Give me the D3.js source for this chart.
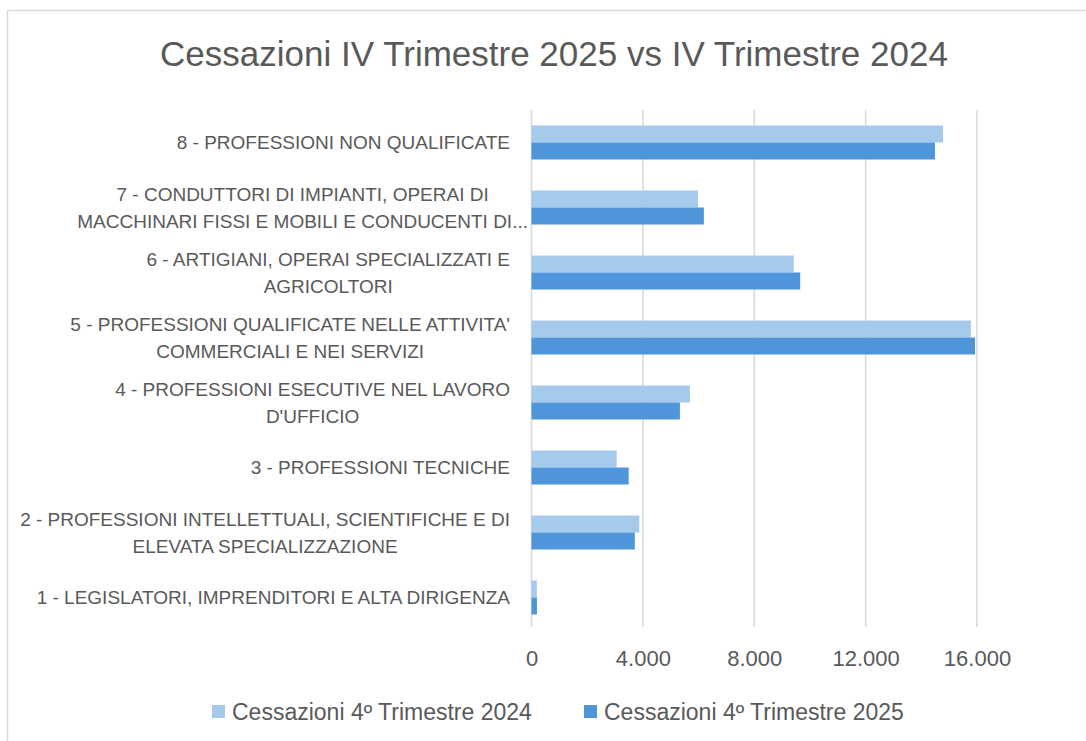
<!DOCTYPE html>
<html>
<head>
<meta charset="utf-8">
<script src="https://cdn.jsdelivr.net/npm/d3@7"></script>
<style>
  body { margin: 0; background: #fff; }
  text { font-family: "Liberation Sans", Arial, sans-serif; fill: #595959; }
</style>
</head>
<body>
<div id="chart"></div>
<script>
// categories, bottom (1) to top (8); each label split in its wrapped lines
let categories = ["1", "2", "3", "4", "5", "6", "7", "8"]
let categoryLines = [
    ["1 - LEGISLATORI, IMPRENDITORI E ALTA DIRIGENZA"],
    ["2 - PROFESSIONI INTELLETTUALI, SCIENTIFICHE E DI", "ELEVATA SPECIALIZZAZIONE"],
    ["3 - PROFESSIONI TECNICHE"],
    ["4 - PROFESSIONI ESECUTIVE NEL LAVORO", "D'UFFICIO"],
    ["5 - PROFESSIONI QUALIFICATE NELLE ATTIVITA'", "COMMERCIALI E NEI SERVIZI"],
    ["6 - ARTIGIANI, OPERAI SPECIALIZZATI E", "AGRICOLTORI"],
    ["7 - CONDUTTORI DI IMPIANTI, OPERAI DI", "MACCHINARI FISSI E MOBILI E CONDUCENTI DI..."],
    ["8 - PROFESSIONI NON QUALIFICATE"]
]
let values2024 = [190, 3870, 3060, 5690, 15780, 9420, 5980, 14780]
let values2025 = [195, 3710, 3490, 5330, 15930, 9650, 6190, 14490]
let seriesNames = ["Cessazioni 4º Trimestre 2024", "Cessazioni 4º Trimestre 2025"]
let xTicks = [0, 4000, 8000, 12000, 16000]
let titleText = "Cessazioni IV Trimestre 2025 vs IV Trimestre 2024"

let colors = ["#A6CAEC", "#4E95D9"]

let width = 1086, height = 741

let svg = d3.select("#chart").append("svg")
    .attr("width", width)
    .attr("height", height)

// chart border (only top and left visible in the picture)
svg.append("rect")
    .attr("x", 7.5).attr("y", 10.5)
    .attr("width", 1100).attr("height", 760)
    .attr("fill", "none")
    .attr("stroke", "#D9D9D9")
    .attr("stroke-width", 1.5)

svg.append("text")
    .attr("x", 554).attr("y", 66)
    .attr("text-anchor", "middle")
    .style("font-size", "35px")
    .text(titleText)

let x = d3.scaleLinear()
    .domain([0, 16000])
    .range([531.5, 977])

let y = d3.scaleBand()
    .domain(categories.slice().reverse())
    .range([110, 630])
    .paddingInner(0.477)
    .paddingOuter(0.2385)

let ySub = d3.scaleBand()
    .domain([0, 1])
    .range([0, y.bandwidth()])

// gridlines
svg.append("g").selectAll("line")
    .data(xTicks)
    .enter().append("line")
    .attr("x1", d => x(d)).attr("x2", d => x(d))
    .attr("y1", 110).attr("y2", 627)
    .attr("stroke", "#D9D9D9")
    .attr("stroke-width", 1.5)

let it = d3.formatLocale({decimal: ",", thousands: ".", grouping: [3], currency: ["€", ""]})
let fmt = it.format(",d")

let xAxis = d3.axisBottom(x).tickValues(xTicks).tickFormat(fmt).tickSize(0).tickPadding(0)
let xg = svg.append("g")
    .attr("transform", "translate(0,650)")
    .call(xAxis)
xg.select(".domain").remove()
xg.selectAll("text")
    .attr("dy", "0.71em")
    .style("font-size", "22px")
    .style("font-family", "'Liberation Sans', Arial, sans-serif")
    .attr("fill", "#595959")

// bars
let series = [values2024, values2025]
series.forEach(function (vals, s) {
    svg.append("g").selectAll("rect")
        .data(categories)
        .enter().append("rect")
        .attr("x", x(0))
        .attr("y", (d, i) => y(d) + ySub(s))
        .attr("width", (d, i) => x(vals[i]) - x(0))
        .attr("height", ySub.bandwidth())
        .attr("fill", colors[s])
})

// category labels, wrapped lines centered in a right-aligned block
let labelRight = 510
let lineH = 27
categories.forEach(function (c, i) {
    let lines = categoryLines[i]
    let g = svg.append("g")
    let cy = y(c) + y.bandwidth() / 2
    let texts = lines.map(function (l, j) {
        return g.append("text")
            .attr("y", cy + (j - (lines.length - 1) / 2) * lineH)
            .attr("dy", "0.35em")
            .attr("text-anchor", "middle")
            .style("font-size", "19px")
            .text(l)
    })
    let w = d3.max(texts, t => t.node().getComputedTextLength())
    // the truncated label (ending in "...") sits a bit wider in the original
    let right = lines[lines.length - 1].endsWith("...") ? labelRight + 18 : labelRight
    texts.forEach(t => t.attr("x", right - w / 2))
})

// legend
let legendX = [212, 584]
seriesNames.forEach(function (n, i) {
    svg.append("rect")
        .attr("x", legendX[i]).attr("y", 705)
        .attr("width", 13).attr("height", 13)
        .attr("fill", colors[i])
    svg.append("text")
        .attr("x", legendX[i] + 20).attr("y", 712)
        .attr("dy", "0.35em")
        .style("font-size", "23px")
        .text(n)
})
</script>
</body>
</html>
